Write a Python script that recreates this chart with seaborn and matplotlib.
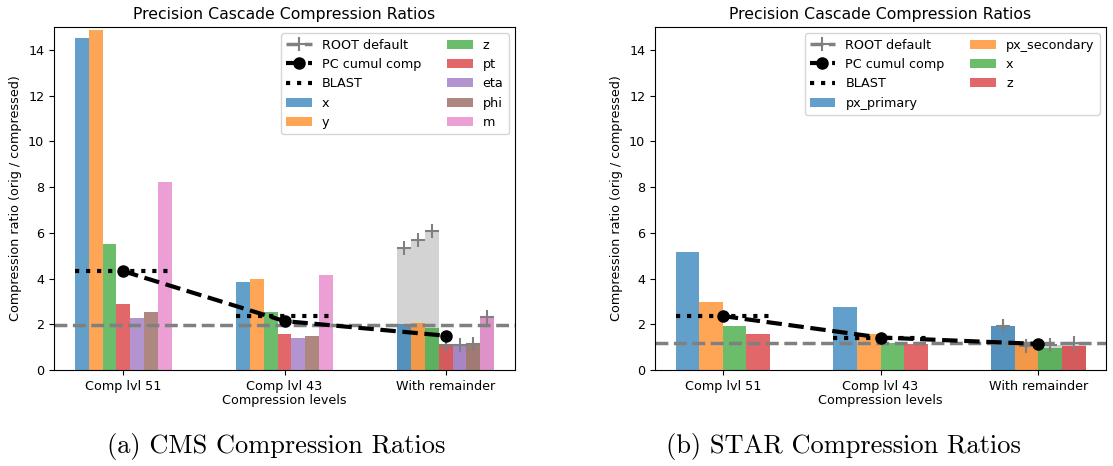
import numpy as np
import pandas as pd
import matplotlib
matplotlib.use("Agg")
import matplotlib.pyplot as plt
from matplotlib.lines import Line2D
from matplotlib.patches import Patch
import seaborn as sns

# compression levels (x groups)
levels = ["Comp lvl 51", "Comp lvl 43", "With remainder"]

# CMS columns and ratios per level
cms_cols = ["x", "y", "z", "pt", "eta", "phi", "m"]
cms_lvl51 = [14.52, 14.89, 5.52, 2.88, 2.28, 2.52, 8.20]
cms_lvl43 = [3.87, 3.96, 2.52, 1.56, 1.41, 1.48, 4.15]
cms_remainder = [2.00, 2.07, 1.85, 1.12, 1.09, 1.12, 2.33]
cms_root = [5.34, 5.70, 6.10, 1.10, 1.10, 1.12, 2.33]
cms_pc = [4.32, 2.14, 1.50]
cms_blast = [4.32, 2.37]
cms_root_default = 1.97

# STAR columns and ratios per level
star_cols = ["px_primary", "px_secondary", "x", "z"]
star_lvl51 = [5.17, 2.97, 1.92, 1.59]
star_lvl43 = [2.74, 1.57, 1.20, 1.13]
star_remainder = [1.92, 1.08, 0.95, 1.05]
star_root = [1.92, 1.06, 1.08, 1.18]
star_pc = [2.36, 1.42, 1.14]
star_blast = [2.36, 1.40]
star_root_default = 1.20

GROUP_W = 0.6
FS = 9.2


def draw_panel(ax, cols, vals, root, pc, blast, root_default):
    n = len(cols)
    colors = sns.color_palette("tab10", n)

    # ROOT default bars, only for the last level
    root_df = pd.DataFrame({"level": levels[2], "column": cols, "ratio": root})
    sns.barplot(data=root_df, x="level", y="ratio", hue="column", order=levels,
                hue_order=cols, palette=["lightgray"] * n, width=GROUP_W,
                saturation=1, errorbar=None, legend=False, linewidth=0, ax=ax)
    root_patches = list(ax.patches)

    df = pd.DataFrame({"level": np.repeat(levels, n),
                       "column": cols * len(levels),
                       "ratio": np.concatenate(vals)})
    sns.barplot(data=df, x="level", y="ratio", hue="column", order=levels,
                hue_order=cols, palette=colors, width=GROUP_W, saturation=1,
                errorbar=None, legend=False, linewidth=0, alpha=0.7, ax=ax)

    ax.axhline(root_default, color="gray", ls="--", lw=2.5)

    # plus markers on top of the ROOT bars
    px = [p.get_x() + p.get_width() / 2 for p in root_patches]
    py = [p.get_height() for p in root_patches]
    ax.plot(px, py, ls="none", marker="+", color="gray", ms=10, mew=1.5)

    idx = np.arange(len(blast))
    ax.hlines(blast, idx - GROUP_W / 2, idx + GROUP_W / 2, colors="black",
              linestyles=":", lw=3)
    ax.plot(np.arange(len(pc)), pc, ls="--", marker="o", color="black",
            lw=3, ms=8)

    ax.set_ylim(0, 15)
    ax.set_title("Precision Cascade Compression Ratios", fontsize=11.3)
    ax.set_xlabel("Compression levels", fontsize=FS, labelpad=1)
    ax.set_ylabel("Compression ratio (orig / compressed)", fontsize=FS)
    ax.tick_params(labelsize=FS)

    handles = [Line2D([], [], color="gray", ls="--", lw=2.5, marker="+", ms=10, mew=1.5),
               Line2D([], [], color="black", ls="--", lw=3, marker="o", ms=8),
               Line2D([], [], color="black", ls=":", lw=3)]
    handles += [Patch(facecolor=c, alpha=0.7) for c in colors]
    labels = ["ROOT default", "PC cumul comp", "BLAST"] + cols
    ax.legend(handles, labels, ncol=2, loc="upper right", fontsize=FS)


fig = plt.figure(figsize=(11.13, 4.66), dpi=100)
ax1 = fig.add_axes([54 / 1113, 96 / 466, 461 / 1113, 343 / 466])
ax2 = fig.add_axes([655 / 1113, 96 / 466, 451 / 1113, 343 / 466])

draw_panel(ax1, cms_cols, [cms_lvl51, cms_lvl43, cms_remainder], cms_root,
           cms_pc, cms_blast, cms_root_default)
draw_panel(ax2, star_cols, [star_lvl51, star_lvl43, star_remainder], star_root,
           star_pc, star_blast, star_root_default)

fig.text(276 / 1113, 1 - 447 / 466, "(a) CMS Compression Ratios",
         family="cmr10", fontsize=19, ha="center", va="center")
fig.text(843 / 1113, 1 - 447 / 466, "(b) STAR Compression Ratios",
         family="cmr10", fontsize=19, ha="center", va="center")

fig.savefig("out.png", dpi=100)
